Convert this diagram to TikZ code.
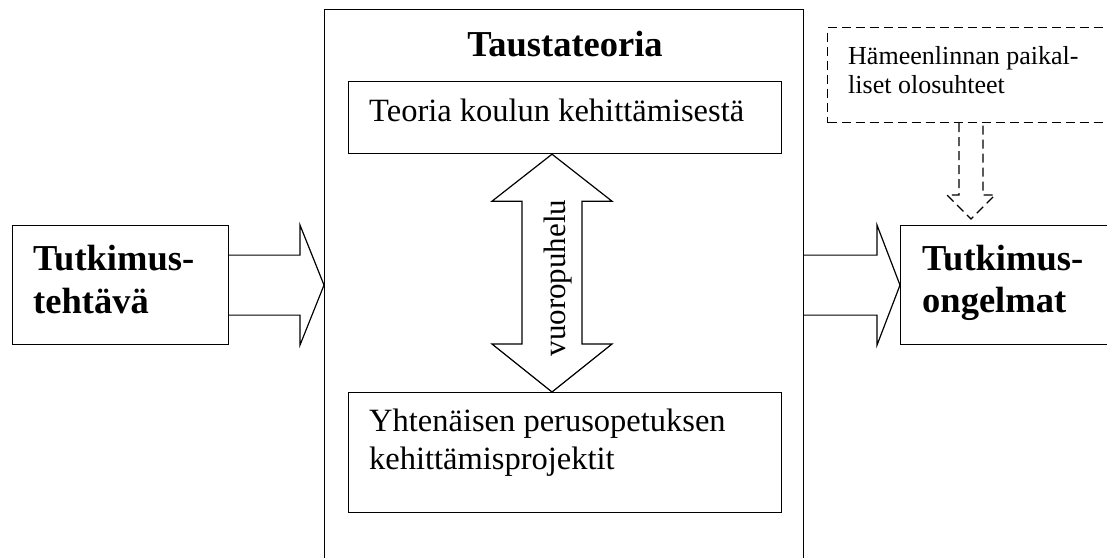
\documentclass[tikz,border=0pt]{standalone}
\usepackage{fontspec}
\setmainfont{Liberation Serif}
\usetikzlibrary{calc}
\begin{document}
\begin{tikzpicture}[x=1pt,y=-1pt,
  boxline/.style={draw=black,line width=1.2pt},
  dashline/.style={draw=black,line width=1.2pt,dash pattern=on 9pt off 5pt},
  plainbox/.style={boxline,rectangle,inner sep=0pt,anchor=north west},
  bigtext/.style={font=\fontsize{36.5}{42}\selectfont\bfseries,anchor=base west,inner sep=0pt},
  midtext/.style={font=\fontsize{32.5}{38}\selectfont,anchor=base west,inner sep=0pt},
  smalltext/.style={font=\fontsize{26}{30}\selectfont,anchor=base west,inner sep=0pt},
  blockarrow/.style={boxline,line join=miter}
]
\useasboundingbox (0,0) rectangle (1107,557);
% boxes
\node[plainbox,minimum width=216pt,minimum height=119pt] (task) at (12,225) {};
\node[plainbox,minimum width=479pt,minimum height=560pt] (theory) at (324,9) {};
\node[plainbox,minimum width=433pt,minimum height=72pt] (koulu) at (348,81) {};
\node[plainbox,minimum width=433pt,minimum height=120pt] (proj) at (348,392) {};
\node[plainbox,minimum width=220pt,minimum height=119pt] (probl) at (900,225) {};
\node[rectangle,dashline,inner sep=0pt,anchor=north west,minimum width=300pt,minimum height=95pt] (local) at (827,27) {};
% texts
\node[bigtext] (t1) at (33,270) {Tutkimus-};
\node[bigtext] (t2) at (33,313) {tehtävä};
\node[bigtext] (p1) at (922,270) {Tutkimus-};
\node[bigtext] (p2) at (922,312) {ongelmat};
\node[font=\fontsize{36.5}{42}\selectfont\bfseries,anchor=base,inner sep=0pt] (title) at (565,56) {Taustateoria};
\node[midtext] (k1) at (369,121) {Teoria koulun kehittämisestä};
\node[midtext] (y1) at (369,431) {Yhtenäisen perusopetuksen};
\node[midtext] (y2) at (369,469) {kehittämisprojektit};
\node[smalltext] (h1) at (848,64) {Hämeenlinnan paikal-};
\node[smalltext] (h2) at (848,93) {liset olosuhteet};
% left block arrow
\draw[blockarrow] ($(task.east)+(0,-30)$) -- ($(theory.west |- task.east)+(-24,-30)$)
  -- ($(theory.west |- task.east)+(-24,-60)$) -- ($(theory.west |- task.east)+(0,0)$)
  -- ($(theory.west |- task.east)+(-24,60)$) -- ($(theory.west |- task.east)+(-24,30)$)
  -- ($(task.east)+(0,30)$);
% right block arrow
\draw[blockarrow] ($(theory.east |- probl.west)+(0,-30)$) -- ($(probl.west)+(-23,-30)$)
  -- ($(probl.west)+(-23,-60)$) -- (probl.west)
  -- ($(probl.west)+(-23,60)$) -- ($(probl.west)+(-23,30)$)
  -- ($(theory.east |- probl.west)+(0,30)$);
% double arrow
\coordinate (dtop) at (koulu.south -| 552,0);
\coordinate (dbot) at (proj.north -| 552,0);
\draw[blockarrow] (dtop) -- ($(dtop)+(60,47)$) -- ($(dtop)+(30,47)$) -- ($(dbot)+(30,-48)$)
  -- ($(dbot)+(60,-48)$) -- (dbot) -- ($(dbot)+(-60,-48)$) -- ($(dbot)+(-30,-48)$)
  -- ($(dtop)+(-30,47)$) -- ($(dtop)+(-60,47)$) -- cycle;
\node[font=\fontsize{31}{36}\selectfont,rotate=90,inner sep=0pt] (vp) at (558,278) {vuoropuhelu};
% dashed arrow
\coordinate (ltip) at (probl.north -| 971,0);
\draw[dashline,line join=miter] ($(local.south -| 971,0)+(-12,0)$) -- ($(ltip)+(-12,-30)$)
  -- ($(ltip)+(-24,-30)$) -- ($(ltip)+(0,-6)$) -- ($(ltip)+(24,-30)$) -- ($(ltip)+(12,-30)$)
  -- ($(local.south -| 971,0)+(12,0)$);
\end{tikzpicture}
\end{document}
